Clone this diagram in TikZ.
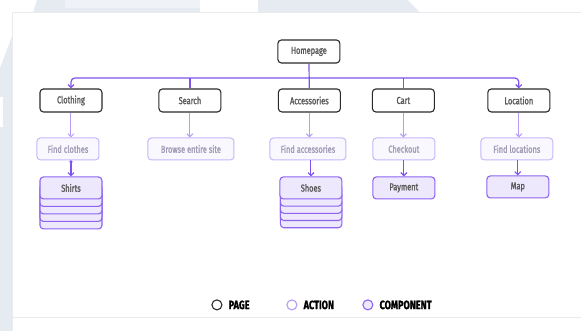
\documentclass[tikz,border=0pt]{standalone}
\usepackage{fontspec}
\setmainfont{Fira Sans}[FakeStretch=0.82]
\newfontfamily\boxface{Fira Sans}[FakeStretch=0.74, FakeBold=1.6]
\newfontfamily\legface{Fira Sans}[FakeStretch=0.76, FakeBold=1.2]
\usetikzlibrary{arrows.meta,positioning}
\definecolor{backgray}{HTML}{E6EAF1}
\definecolor{backlight}{HTML}{EFF2F6}
\definecolor{cardline}{HTML}{E9EBEF}
\definecolor{pageline}{HTML}{2A2A2A}
\definecolor{boxtext}{HTML}{5A5A5A}
\definecolor{actline}{HTML}{C7B6FA}
\definecolor{actfill}{HTML}{FAF8FF}
\definecolor{acttext}{HTML}{A29CB4}
\definecolor{arrowlight}{HTML}{B39CF6}
\definecolor{violet}{HTML}{7D52EE}
\definecolor{compline}{HTML}{8E63F2}
\definecolor{compfill}{HTML}{EEE8FD}
\begin{document}
\begin{tikzpicture}[x=1pt,y=-1pt,
    boxfont/.style={font=\boxface\fontsize{10}{11}\selectfont},
    page/.style={boxfont, draw=pageline, line width=1.1pt, rounded corners=3.5pt,
      fill=white, text=boxtext, minimum width=62pt, minimum height=23pt},
    action/.style={boxfont, draw=actline, line width=1pt, rounded corners=3.5pt,
      fill=actfill, text=acttext, minimum width=62pt, minimum height=22pt},
    comp/.style={boxfont, draw=compline, line width=1.1pt, rounded corners=3.5pt,
      fill=compfill, text=boxtext, minimum width=62pt, minimum height=22pt},
    layer/.style={draw=compline, line width=1.1pt, rounded corners=3.5pt, fill=compfill},
    busline/.style={draw=violet, line width=1.2pt, rounded corners=4pt},
    lightline/.style={draw=arrowlight, line width=1pt},
    tip/.style={-{Straight Barb[length=3pt,width=6pt]}},
    dot/.style={circle, draw, line width=1.1pt, minimum size=10pt, inner sep=0pt},
    legtext/.style={font=\legface\bfseries\fontsize{12}{13}\selectfont, text=black, inner sep=0pt}]

  % background and card
  \fill[backgray] (0,0) rectangle (581,331);
  \fill[white] (0,0) -- (37,0) -- (33,12) -- (12,12) -- (12,36) -- (0,68) -- cycle;
  \fill[backlight] (65,0) rectangle (200,8);
  \fill[white] (200,0) rectangle (258,12);
  \fill[white] (408,0) -- (581,0) -- (581,12) -- (420,12) -- cycle;
  \fill[white] (0,97) rectangle (3,127);
  \fill[white] (12,12) rectangle (581,331);
  \draw[cardline] (12,331) -- (12,12) -- (581,12);
  \draw[cardline] (12,317) -- (581,317);

  % pages
  \draw
    (309,51.5) node[page] (home){Homepage}
    (71,100.5) node[page] (clothing){Clothing}
    (190,100.5) node[page] (search){Search}
    (309.5,100.5) node[page] (accessories){Accessories}
    (403.5,100.5) node[page] (cart){Cart}
    (519,100.5) node[page] (location){Location};

  % actions
  \draw
    (68,149) node[action] (findclothes){Find clothes}
    (191,149) node[action, minimum width=86pt] (browse){Browse entire site}
    (308,149) node[action, minimum width=76pt] (findacc){Find accessories}
    (404,149) node[action] (checkout){Checkout}
    (517,149) node[action, minimum width=72pt] (findloc){Find locations};

  % components, stacked ones first
  \foreach \k in {4,3,2,1} {
    \draw[layer] (40,177+7.5*\k) rectangle (102,199+7.5*\k);
    \draw[layer] (280.5,177+7.2*\k) rectangle (342,199+7.2*\k);
  }
  \draw
    (71,188) node[comp] (shirts){Shirts}
    (311,188) node[comp] (shoes){Shoes}
    (404,188) node[comp] (payment){Payment}
    (518,187) node[comp] (map){Map};

  % connectors
  \coordinate (bus) at (309,78);
  \begin{scope}[busline]
    \draw (home) -- (accessories);
    \draw[tip] (bus) -| (clothing);
    \draw[tip] (bus) -| (location);
    \draw (search |- bus) -- (search);
    \draw (cart |- bus) -- (cart);
  \end{scope}
  \begin{scope}[lightline, tip]
    \draw (clothing) -- (clothing |- findclothes.north);
    \draw (search) -- (search |- browse.north);
    \draw (accessories) -- (accessories |- findacc.north);
    \draw (cart) -- (cart |- checkout.north);
    \draw (location) -- (location |- findloc.north);
  \end{scope}
  \begin{scope}[busline, line width=1.1pt, tip]
    \draw[{Circle[length=3pt]}-{Straight Barb[length=3pt,width=6pt]}]
      (clothing |- findclothes.south) -- (shirts);
    \draw (findacc.south -| shoes) -- (shoes);
    \draw (checkout) -- (payment);
    \draw (findloc.south -| map) -- (map);
  \end{scope}

  % legend
  \node[dot, draw=pageline] (legpage) at (217,305) {};
  \node[legtext, right=6pt of legpage] (legpagetxt) {PAGE};
  \node[dot, draw=arrowlight] (legaction) at (292,305) {};
  \node[legtext, right=6pt of legaction] (legactiontxt) {ACTION};
  \node[dot, draw=compline, fill=compfill] (legcomp) at (368,305) {};
  \node[legtext, right=6pt of legcomp] (legcomptxt) {COMPONENT};
\end{tikzpicture}
\end{document}
